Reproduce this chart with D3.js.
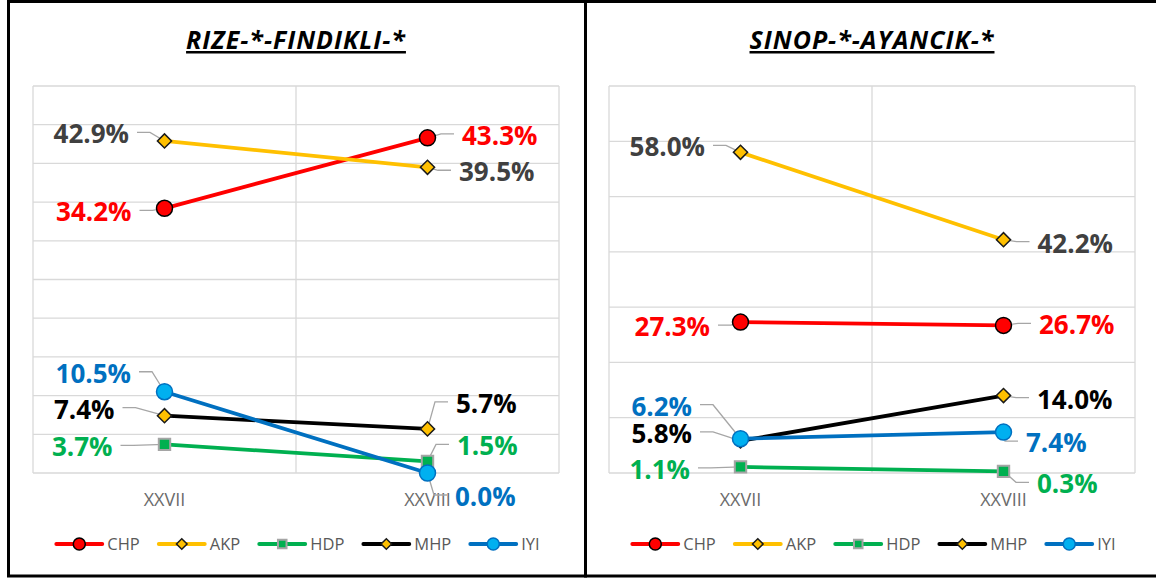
<!DOCTYPE html>
<html>
<head>
<meta charset="utf-8">
<script src="https://cdn.jsdelivr.net/npm/d3@7"></script>
<style>
  body { margin: 0; background: #fff; }
  text { font-family: "Open Sans", "Noto Sans", sans-serif; }
</style>
</head>
<body>
<div id="chart"></div>
<script>
// ---- data ----
const categories = ["XXVII", "XXVIII"];
const parties = ["CHP", "AKP", "HDP", "MHP", "IYI"];

const rizeTitle = "RIZE-*-FINDIKLI-*";
const rizeCHP = [34.2, 43.3];
const rizeAKP = [42.9, 39.5];
const rizeHDP = [3.7, 1.5];
const rizeMHP = [7.4, 5.7];
const rizeIYI = [10.5, 0.0];
const rizeTicks = [0, 5, 10, 15, 20, 25, 30, 35, 40, 45, 50];

const sinopTitle = "SINOP-*-AYANCIK-*";
const sinopCHP = [27.3, 26.7];
const sinopAKP = [58.0, 42.2];
const sinopHDP = [1.1, 0.3];
const sinopMHP = [5.8, 14.0];
const sinopIYI = [6.2, 7.4];
const sinopTicks = [0, 10, 20, 30, 40, 50, 60, 70];

// ---- styles ----
const lineColor = { CHP: "#FF0000", AKP: "#FFC000", HDP: "#00B050", MHP: "#000000", IYI: "#0070C0" };
const textColor = { CHP: "#FF0000", AKP: "#404040", HDP: "#00B050", MHP: "#000000", IYI: "#0070C0" };

// label offsets (px) from each point: [dx to label edge, dy to label middle]
const rizeLabelPos = {
  CHP: [[-33, 4], [34.5, -2]],
  AKP: [[-35.5, -6.5], [31.5, 5]],
  HDP: [[-52, 3], [29.5, -15]],
  MHP: [[-50, -6], [28.5, -25]],
  IYI: [[-33.5, -18], [27.5, 24]]
};
const sinopLabelPos = {
  CHP: [[-30.5, 5], [35.5, 0]],
  AKP: [[-35.5, -5], [34, 4]],
  HDP: [[-50.5, 3], [33.5, 13]],
  MHP: [[-48.5, -7], [33.5, 4]],
  IYI: [[-48.5, -32], [22.5, 11]]
};

const width = 1156, height = 579;
const plotTop = 86, plotBottom = 473;

const svg = d3.select("#chart").append("svg")
  .attr("width", width)
  .attr("height", height);

const panels = [
  { title: rizeTitle, values: { CHP: rizeCHP, AKP: rizeAKP, HDP: rizeHDP, MHP: rizeMHP, IYI: rizeIYI },
    ticks: rizeTicks, labelPos: rizeLabelPos, x0: 33, x1: 559 },
  { title: sinopTitle, values: { CHP: sinopCHP, AKP: sinopAKP, HDP: sinopHDP, MHP: sinopMHP, IYI: sinopIYI },
    ticks: sinopTicks, labelPos: sinopLabelPos, x0: 609, x1: 1135 }
];

const fmt = v => d3.format(".1%")(v / 100);

function drawMarker(g, party, x, y, k) {
  if (party === "CHP" || party === "IYI") {
    g.append("circle")
      .attr("cx", x).attr("cy", y).attr("r", 8 * k)
      .attr("fill", party === "CHP" ? "#FF0000" : "#00B0F0")
      .attr("stroke", party === "CHP" ? "#000000" : "#0070C0")
      .attr("stroke-width", 1.5);
  } else if (party === "HDP") {
    g.append("path")
      .attr("d", d3.symbol(d3.symbolSquare, 130 * k * k)())
      .attr("transform", `translate(${x},${y})`)
      .attr("fill", "#00B050")
      .attr("stroke", "#A5A5A5")
      .attr("stroke-width", 2);
  } else {
    g.append("path")
      .attr("d", d3.symbol(d3.symbolSquare, 100 * k * k)())
      .attr("transform", `translate(${x},${y}) rotate(45)`)
      .attr("fill", "#FFC000")
      .attr("stroke", "#1a1a1a")
      .attr("stroke-width", 1.5);
  }
}

panels.forEach(p => {
  const x = d3.scaleBand().domain(categories).range([p.x0, p.x1]).padding(0);
  const y = d3.scaleLinear().domain([0, d3.max(p.ticks)]).range([plotBottom, plotTop]);
  const cx = c => x(c) + x.bandwidth() / 2;
  const mid = (p.x0 + p.x1) / 2;

  const g = svg.append("g");

  // title
  g.append("text")
    .attr("x", mid).attr("y", 49)
    .attr("text-anchor", "middle")
    .style("font-size", "25px")
    .style("font-weight", "bold")
    .style("font-style", "italic")
    .style("letter-spacing", "1px")
    .style("text-decoration", "underline")
    .attr("fill", "#000")
    .text(p.title);

  // gridlines
  g.append("g").selectAll("line")
    .data(p.ticks)
    .join("line")
    .attr("x1", p.x0).attr("x2", p.x1)
    .attr("y1", d => y(d)).attr("y2", d => y(d))
    .attr("stroke", "#D9D9D9").attr("stroke-width", 1.3);
  const vx = categories.map(c => x(c)).concat([p.x1]);
  g.append("g").selectAll("line")
    .data(vx)
    .join("line")
    .attr("x1", d => d).attr("x2", d => d)
    .attr("y1", plotTop).attr("y2", plotBottom)
    .attr("stroke", "#D9D9D9").attr("stroke-width", 1.3);

  // category labels
  g.append("g").selectAll("text")
    .data(categories)
    .join("text")
    .attr("x", d => cx(d)).attr("y", 506)
    .attr("text-anchor", "middle")
    .style("font-size", "18px")
    .attr("fill", "#6b6b6b")
    .text(d => d);

  // leader lines (under the series)
  const leaders = g.append("g");
  parties.forEach(party => {
    p.values[party].forEach((v, i) => {
      const px = cx(categories[i]), py = y(v);
      const [dx, dy] = p.labelPos[party][i];
      const side = dx < 0 ? -1 : 1;
      const ly = py + dy - 2;
      const sx = px + dx - side * 8;
      const ex = sx - side * 13;
      leaders.append("path")
        .attr("d", d3.line()([[sx, ly], [ex, ly], [px, py]]))
        .attr("fill", "none")
        .attr("stroke", "#A6A6A6")
        .attr("stroke-width", 1.3);
    });
  });

  // series lines + markers
  const line = d3.line().x((d, i) => cx(categories[i])).y(d => y(d));
  parties.forEach(party => {
    const sg = g.append("g");
    sg.append("path")
      .datum(p.values[party])
      .attr("d", line)
      .attr("fill", "none")
      .attr("stroke", lineColor[party])
      .attr("stroke-width", 3.8)
      .attr("stroke-linecap", "round");
    p.values[party].forEach((v, i) => drawMarker(sg, party, cx(categories[i]), y(v), 1));
  });

  // data labels
  parties.forEach(party => {
    p.values[party].forEach((v, i) => {
      const px = cx(categories[i]), py = y(v);
      const [dx, dy] = p.labelPos[party][i];
      g.append("text")
        .attr("x", px + dx).attr("y", py + dy + 9)
        .attr("text-anchor", dx < 0 ? "end" : "start")
        .style("font-size", "26px")
        .style("font-weight", "bold")
        .attr("fill", textColor[party])
        .text(fmt(v));
    });
  });

  // legend
  const lg = g.append("g");
  let lx = 0;
  parties.forEach(party => {
    const it = lg.append("g").attr("transform", `translate(${lx},0)`);
    it.append("line")
      .attr("x1", 0).attr("x2", 46).attr("y1", 0).attr("y2", 0)
      .attr("stroke", lineColor[party]).attr("stroke-width", 3.8)
      .attr("stroke-linecap", "round");
    drawMarker(it, party, 23, 0, 0.75);
    const t = it.append("text")
      .attr("x", 51).attr("y", 6)
      .style("font-size", "16.5px")
      .attr("fill", "#595959")
      .text(party);
    lx += 51 + t.node().getComputedTextLength() + 19;
  });
  const lw = lx - 19;
  lg.attr("transform", `translate(${mid + 2 - lw / 2},544)`);
});

// panel borders
svg.append("rect")
  .attr("x", 8.5).attr("y", 1.5).attr("width", 577).attr("height", 574.5)
  .attr("fill", "none").attr("stroke", "#000").attr("stroke-width", 3);
svg.append("rect")
  .attr("x", 585.5).attr("y", 1.5).attr("width", 580).attr("height", 574.5)
  .attr("fill", "none").attr("stroke", "#000").attr("stroke-width", 3);
</script>
</body>
</html>
